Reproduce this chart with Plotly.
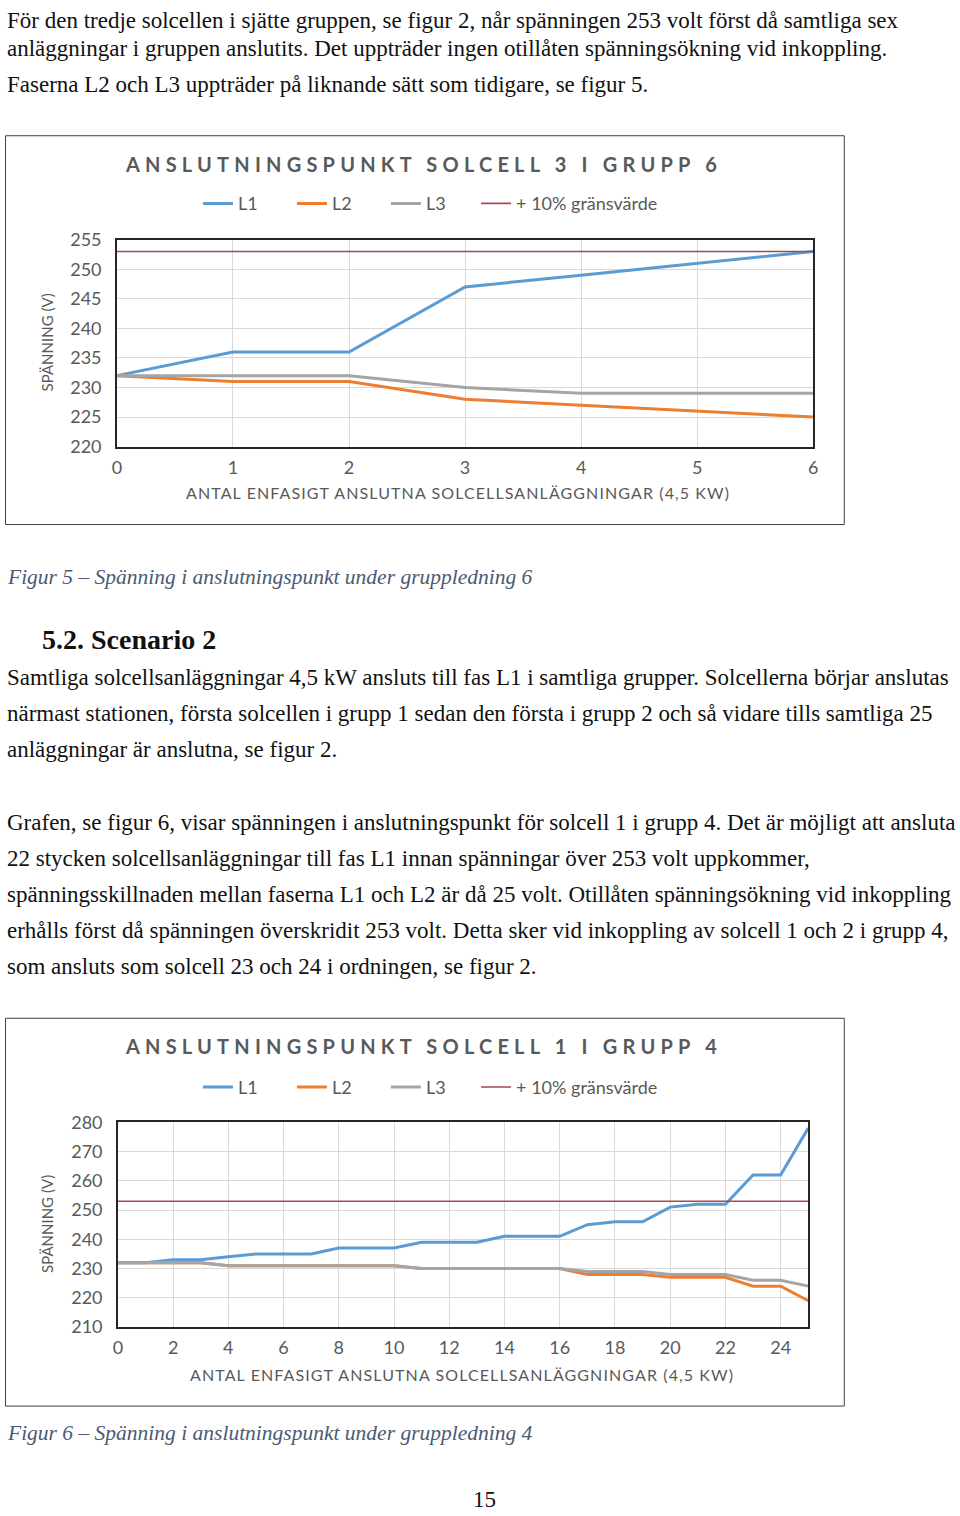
import plotly.graph_objects as go

W, H = 960, 1516

# ---------------- data ----------------
x_c1 = [0, 1, 2, 3, 4, 5, 6]
l1_c1 = [232, 236, 236, 247, 249, 251, 253]
l2_c1 = [232, 231, 231, 228, 227, 226, 225]
l3_c1 = [232, 232, 232, 230, 229, 229, 229]
lim_c1 = [253, 253, 253, 253, 253, 253, 253]

x_c2 = [0, 1, 2, 3, 4, 5, 6, 7, 8, 9, 10, 11, 12, 13, 14, 15, 16, 17, 18, 19, 20, 21, 22, 23, 24, 25]
l1_c2 = [232, 232, 233, 233, 234, 235, 235, 235, 237, 237, 237, 239, 239, 239, 241, 241, 241, 245, 246, 246, 251, 252, 252, 262, 262, 278]
l2_c2 = [232, 232, 232, 232, 231, 231, 231, 231, 231, 231, 231, 230, 230, 230, 230, 230, 230, 228, 228, 228, 227, 227, 227, 224, 224, 219]
l3_c2 = [232, 232, 232, 232, 231, 231, 231, 231, 231, 231, 231, 230, 230, 230, 230, 230, 230, 229, 229, 229, 228, 228, 228, 226, 226, 224]
lim_c2 = [253, 253, 253, 253, 253, 253, 253, 253, 253, 253, 253, 253, 253, 253, 253, 253, 253, 253, 253, 253, 253, 253, 253, 253, 253, 253]

series_names = ["L1", "L2", "L3", "+ 10% gränsvärde"]
series_colors = ["#5B9BD5", "#ED7D31", "#A5A5A5", "#A34A4F"]
series_widths = [3, 3, 3, 1.6]

title_c1 = "ANSLUTNINGSPUNKT SOLCELL 3 I GRUPP 6"
title_c2 = "ANSLUTNINGSPUNKT SOLCELL 1 I GRUPP 4"
xtitle = "ANTAL ENFASIGT ANSLUTNA SOLCELLSANLÄGGNINGAR (4,5 KW)"
ytitle = "SPÄNNING (V)"

body_lines = [
    (20, "För den tredje solcellen i sjätte gruppen, se figur 2, når spänningen 253 volt först då samtliga sex"),
    (48, "anläggningar i gruppen anslutits. Det uppträder ingen otillåten spänningsökning vid inkoppling."),
    (84, "Faserna L2 och L3 uppträder på liknande sätt som tidigare, se figur 5."),
    (677, "Samtliga solcellsanläggningar 4,5 kW ansluts till fas L1 i samtliga grupper. Solcellerna börjar anslutas"),
    (713, "närmast stationen, första solcellen i grupp 1 sedan den första i grupp 2 och så vidare tills samtliga 25"),
    (749, "anläggningar är anslutna, se figur 2."),
    (822, "Grafen, se figur 6, visar spänningen i anslutningspunkt för solcell 1 i grupp 4. Det är möjligt att ansluta"),
    (858, "22 stycken solcellsanläggningar till fas L1 innan spänningar över 253 volt uppkommer,"),
    (894, "spänningsskillnaden mellan faserna L1 och L2 är då 25 volt. Otillåten spänningsökning vid inkoppling"),
    (930, "erhålls först då spänningen överskridit 253 volt. Detta sker vid inkoppling av solcell 1 och 2 i grupp 4,"),
    (966, "som ansluts som solcell 23 och 24 i ordningen, se figur 2."),
]
captions = [
    (576, "Figur 5 – Spänning i anslutningspunkt under gruppledning 6"),
    (1433, "Figur 6 – Spänning i anslutningspunkt under gruppledning 4"),
]
heading = (639, "5.2. Scenario 2")
page_no = (1499, "15")

# the photographed page comes out slightly shrunk and centred;
# positions below are given in photo pixels and mapped back to figure pixels
SX, OX = 0.989, 5.2
SY, OY = 0.986, 11.2


def px(xp):
    return ((xp - OX) / SX) / W


def py(yp):
    return 1 - ((yp - OY) / SY) / H


CH = "#595959"
SANS = "Lato"
SERIF = "Liberation Serif"

fig = go.Figure()

for xs, ys_list, xa, ya, lg_main, lg_lim in [
    (x_c1, [l1_c1, l2_c1, l3_c1, lim_c1], "x", "y", "legend", "legend3"),
    (x_c2, [l1_c2, l2_c2, l3_c2, lim_c2], "x2", "y2", "legend2", "legend4"),
]:
    for i, (name, ys, col, lw) in enumerate(zip(series_names, ys_list, series_colors, series_widths)):
        fig.add_trace(go.Scatter(
            x=xs, y=ys, name=name, mode="lines",
            line=dict(color=col, width=lw),
            xaxis=xa, yaxis=ya, legend=(lg_lim if i == 3 else lg_main), showlegend=True,
        ))

axis_common = dict(
    showgrid=True, gridcolor="#D9D9D9", gridwidth=1,
    showline=True, linecolor="#262626", linewidth=1.5, mirror=True,
    zeroline=False, ticks="",
    tickfont=dict(family=SANS, size=18, color=CH),
    fixedrange=True,
)

p1 = dict(l=117, r=813, t=239, b=446)
p2 = dict(l=118, r=808, t=1122, b=1327)

leg_font = dict(family=SANS, size=18, color=CH)
legend_main = dict(
    orientation="h", xanchor="left", yanchor="middle",
    font=leg_font, bgcolor="rgba(0,0,0,0)",
    itemwidth=30, tracegroupgap=0, entrywidth=49, entrywidthmode="pixels",
)
legend_lim = dict(
    orientation="h", xanchor="left", yanchor="middle",
    font=leg_font, bgcolor="rgba(0,0,0,0)", itemwidth=30,
)

fig.update_layout(
    width=W, height=H,
    margin=dict(l=0, r=0, t=0, b=0),
    paper_bgcolor="white", plot_bgcolor="white",
    xaxis=dict(domain=[px(p1["l"]), px(p1["r"])], range=[0, 6], dtick=1,
               anchor="y", ticklabelstandoff=4, **axis_common),
    yaxis=dict(domain=[py(p1["b"]), py(p1["t"])], range=[220, 255], dtick=5,
               anchor="x", ticklabelstandoff=10, **axis_common),
    xaxis2=dict(domain=[px(p2["l"]), px(p2["r"])], range=[0, 25], tick0=0, dtick=2,
                anchor="y2", ticklabelstandoff=4, **axis_common),
    yaxis2=dict(domain=[py(p2["b"]), py(p2["t"])], range=[210, 280], dtick=10,
                anchor="x2", ticklabelstandoff=10, **axis_common),
    legend=dict(x=px(198), y=py(203), **legend_main),
    legend2=dict(x=px(198), y=py(1087), **legend_main),
    legend3=dict(x=px(476), y=py(203), **legend_lim),
    legend4=dict(x=px(476), y=py(1087), **legend_lim),
    showlegend=True,
)

# chart frames
for (x0, y0, x1, y1) in [(5.7, 135, 844, 524), (5.7, 1018, 844, 1406)]:
    fig.add_shape(type="rect", xref="paper", yref="paper",
                  x0=px(x0), x1=px(x1), y0=py(y1), y1=py(y0),
                  line=dict(color="#404040", width=1), fillcolor="rgba(0,0,0,0)", layer="below")

ann = []
for yc, t in [(163, title_c1), (1046, title_c2)]:
    ann.append(dict(x=px(423), y=py(yc), text=f'<span style="letter-spacing:5.2px">{t}</span>',
                    font=dict(family=SANS, size=20, color=CH, weight="bold"),
                    xanchor="center", yanchor="middle"))
for yc, xc in [(492, 458), (1374, 462)]:
    ann.append(dict(x=px(xc), y=py(yc), text=f'<span style="letter-spacing:1.1px">{xtitle}</span>',
                    font=dict(family=SANS, size=16, color=CH),
                    xanchor="center", yanchor="middle"))
for yc in [342, 1224]:
    ann.append(dict(x=px(47), y=py(yc), text=ytitle, textangle=-90,
                    font=dict(family=SANS, size=15, color=CH),
                    xanchor="center", yanchor="middle"))
for yc, t in body_lines:
    ann.append(dict(x=px(5.3), y=py(yc), text=t,
                    font=dict(family=SERIF, size=23, color="#111111"),
                    xanchor="left", yanchor="middle"))
for yc, t in captions:
    ann.append(dict(x=px(5.3), y=py(yc), text=f"<i>{t}</i>",
                    font=dict(family=SERIF, size=21.5, color="#4A5A74"),
                    xanchor="left", yanchor="middle"))
ann.append(dict(x=px(40), y=py(heading[0]), text=f"<b>{heading[1]}</b>",
                font=dict(family=SERIF, size=28, color="#111111"),
                xanchor="left", yanchor="middle"))
ann.append(dict(x=px(484), y=py(page_no[0]), text=page_no[1],
                font=dict(family=SERIF, size=23, color="#111111"),
                xanchor="center", yanchor="middle"))

for a in ann:
    a.update(xref="paper", yref="paper", showarrow=False)
fig.update_layout(annotations=ann)

fig.write_html("out.html")
